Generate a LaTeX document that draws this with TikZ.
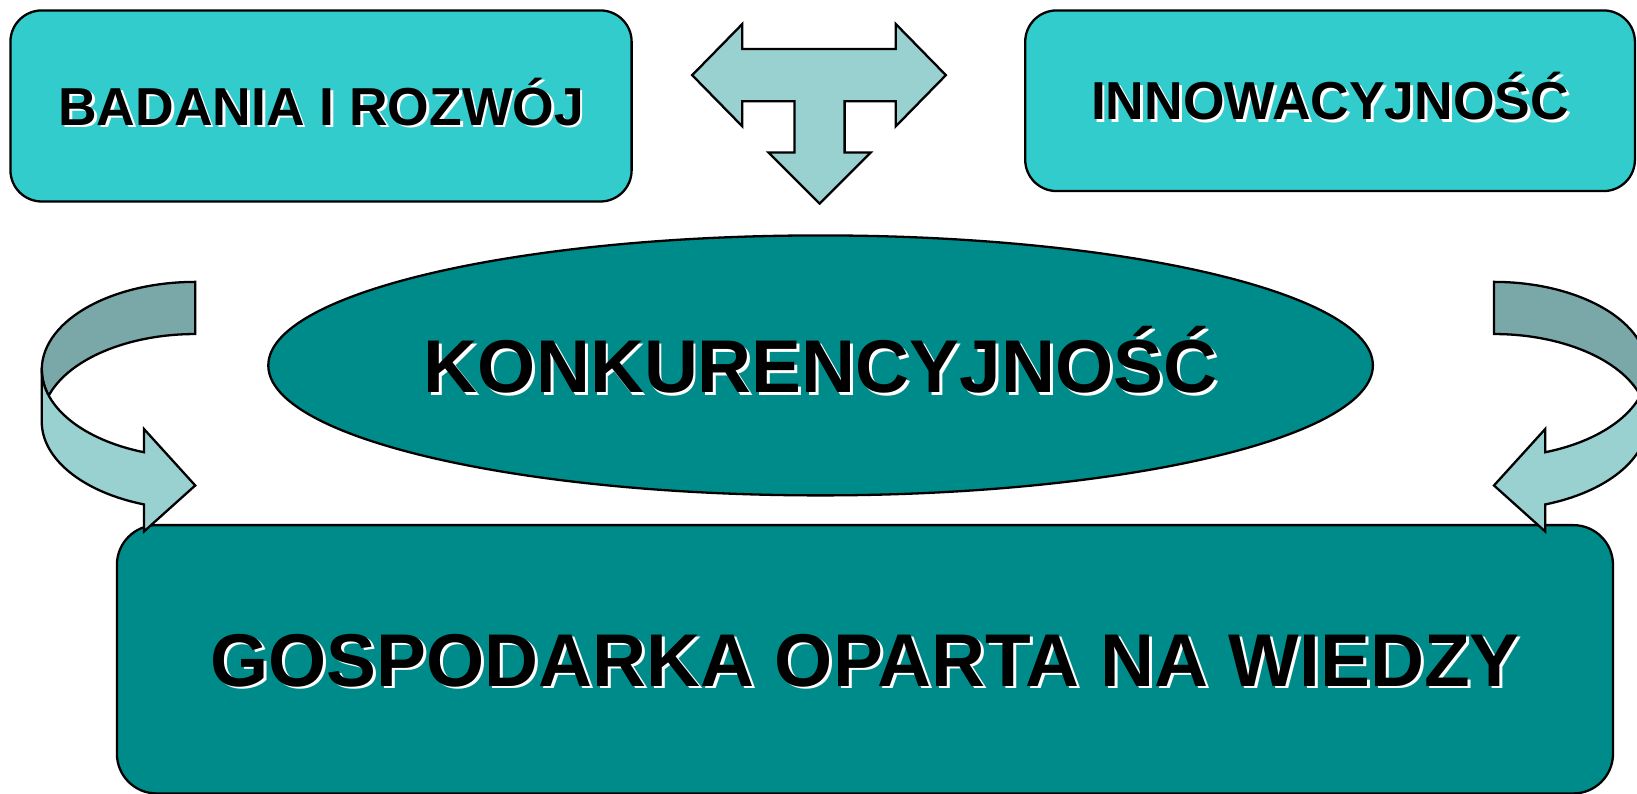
\documentclass[tikz,border=0pt]{standalone}
\usepackage{fontspec}
\setmainfont{Liberation Sans}
\usetikzlibrary{shapes.geometric}
\definecolor{boxcyan}{RGB}{51,204,204}
\definecolor{darkteal}{RGB}{0,139,139}
\definecolor{arrowlight}{RGB}{153,208,208}
\definecolor{arrowdark}{RGB}{122,168,168}
\newcommand{\shadowtext}[1]{\makebox[0pt][l]{\hspace{1.4pt}\raisebox{-1.4pt}{\textcolor{white}{#1}}}#1}
\tikzset{
  topbox/.style={draw, fill=boxcyan, rounded corners=15pt, line width=1.1pt, inner sep=0pt,
    font=\fontsize{25.6}{30}\selectfont\bfseries, text height=18.3pt, text depth=0pt},
  bigbox/.style={draw, fill=darkteal, rounded corners=19pt, line width=1.1pt, inner sep=0pt,
    font=\fontsize{35.8}{40}\selectfont\bfseries, text height=25.6pt, text depth=0pt},
  bigellipse/.style={draw, fill=darkteal, ellipse, line width=1.1pt, inner sep=0pt},
  titletext/.style={inner sep=0pt, font=\fontsize{35.8}{40}\selectfont\bfseries, text height=25.6pt, text depth=0pt},
  lightarrow/.style={draw, fill=arrowlight, line width=1.1pt, line join=miter},
  darkarrow/.style={draw, fill=arrowdark, line width=1.1pt, line join=miter}
}
\begin{document}
\begin{tikzpicture}[x=0.5pt,y=-0.5pt]
\useasboundingbox (0,0) rectangle (1568,760.5);
\node[topbox, minimum width=297.5pt, minimum height=91.5pt] (badania) at (307.5,101.5) {\shadowtext{BADANIA I ROZWÓJ}};
\node[topbox, minimum width=292pt, minimum height=86.5pt] (innow) at (1274,96.5) {\shadowtext{INNOWACYJNOŚĆ}};
% arrow between the top boxes
\draw[lightarrow] (663,72) -- (711,23) -- (711,47) -- (858,47) -- (858,23) -- (906,72)
  -- (858,121) -- (858,97) -- (809,97) -- (809,146) -- (834,146) -- (785,195)
  -- (736,146) -- (761,146) -- (761,97) -- (711,97) -- (711,121) -- cycle;
\node[bigellipse, minimum width=529pt, minimum height=124.5pt] (konk) at (786,350) {};
\node[titletext] (konktext) at (konk) {\shadowtext{KONKURENCYJNOŚĆ}};
\node[bigbox, minimum width=716.5pt, minimum height=128.5pt] (gosp) at (828.5,631.5) {\shadowtext{GOSPODARKA OPARTA NA WIEDZY}};
% curved arrows, left one and its mirror image
\foreach \sx/\sc in {0/1,1618/-1}{
\begin{scope}[shift={(\sx,0)},xscale=\sc]
\draw[darkarrow] (187,270) arc[start angle=270, end angle=162.7, x radius=147, y radius=84]
  arc[start angle=197.3, end angle=270, x radius=147, y radius=84] -- cycle;
\draw[lightarrow] (40,354) -- (40,404) arc[start angle=180, end angle=109.5, x radius=147, y radius=84]
  -- (138,509) -- (187,465) -- (138,411) -- (138,433.2)
  arc[start angle=109.5, end angle=180, x radius=147, y radius=84] -- cycle;
\end{scope}
}
\end{tikzpicture}
\end{document}
